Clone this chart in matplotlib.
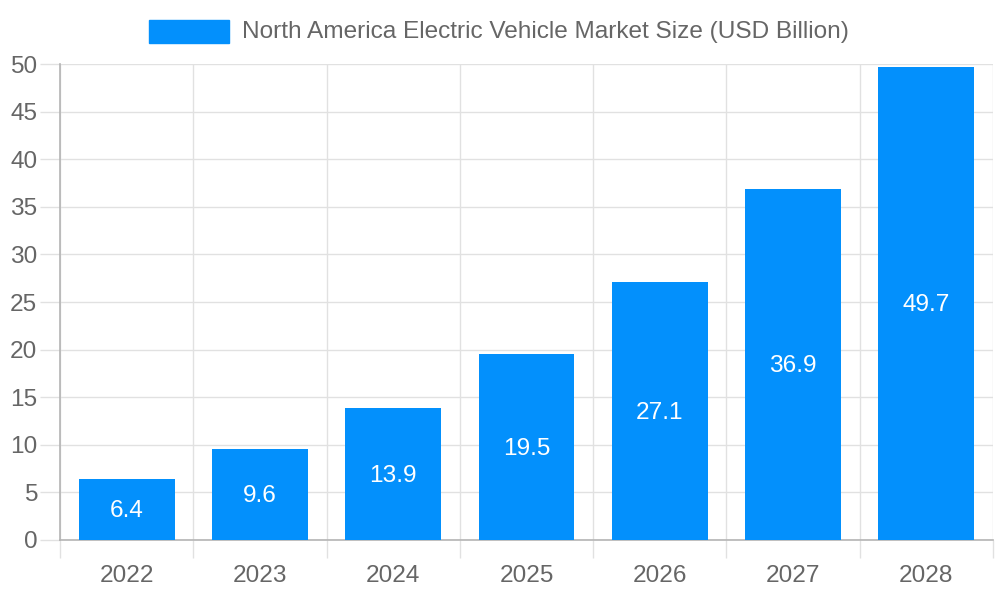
import numpy as np
import matplotlib.pyplot as plt
from matplotlib.patches import Rectangle

years = ["2022", "2023", "2024", "2025", "2026", "2027", "2028"]
market_size = [6.4, 9.6, 13.9, 19.5, 27.1, 36.9, 49.7]
series_name = "North America Electric Vehicle Market Size (USD Billion)"

bar_color = "#0390fc"
text_color = "#666666"
grid_color = "#e1e1e1"
axis_color = "#b4b4b4"

plt.rcParams["font.family"] = ["Liberation Sans", "Arial", "DejaVu Sans"]
fs = 17.6

fig = plt.figure(figsize=(10, 6), dpi=100)
ax = fig.add_axes([0.06, 0.1, 0.933, 0.7933])

x = np.arange(len(years))
bars = ax.bar(x, market_size, width=0.72, color=bar_color, zorder=3)

for xi, v in zip(x, market_size):
    ax.text(xi, v / 2 - 0.2, f"{v}", ha="center", va="center", color="white",
            fontsize=fs, zorder=4)

ax.set_xlim(-0.5, len(years) - 0.5)
ax.set_ylim(0, 50)
ax.set_yticks(np.arange(0, 51, 5))
ax.set_xticks(x)
ax.set_xticklabels(years)

# vertical grid lines at category edges
ax.set_xticks(np.arange(-0.5, len(years)), minor=True)
ax.grid(axis="y", color=grid_color, linewidth=1, zorder=0)
ax.grid(axis="x", which="minor", color=grid_color, linewidth=1, zorder=0)
ax.tick_params(axis="x", which="major", length=0, pad=18, labelsize=fs, labelcolor=text_color)
ax.tick_params(axis="x", which="minor", length=13, color=grid_color, width=1)
ax.tick_params(axis="y", length=14.4, color=grid_color, width=1, pad=2,
               labelsize=fs, labelcolor=text_color)

for s in ["top", "right"]:
    ax.spines[s].set_visible(False)
ax.spines["left"].set_color(axis_color)
ax.spines["bottom"].set_color(axis_color)
ax.spines["left"].set_linewidth(1.2)
ax.spines["bottom"].set_linewidth(1.2)

# legend-like title
fig.patches.append(Rectangle((0.149, 1 - 43 / 600), 0.080, 23 / 600,
                             transform=fig.transFigure, color=bar_color))
fig.text(0.242, 1 - 32 / 600, series_name, ha="left", va="center",
         fontsize=fs, color=text_color)

fig.savefig("out.png", dpi=100)
